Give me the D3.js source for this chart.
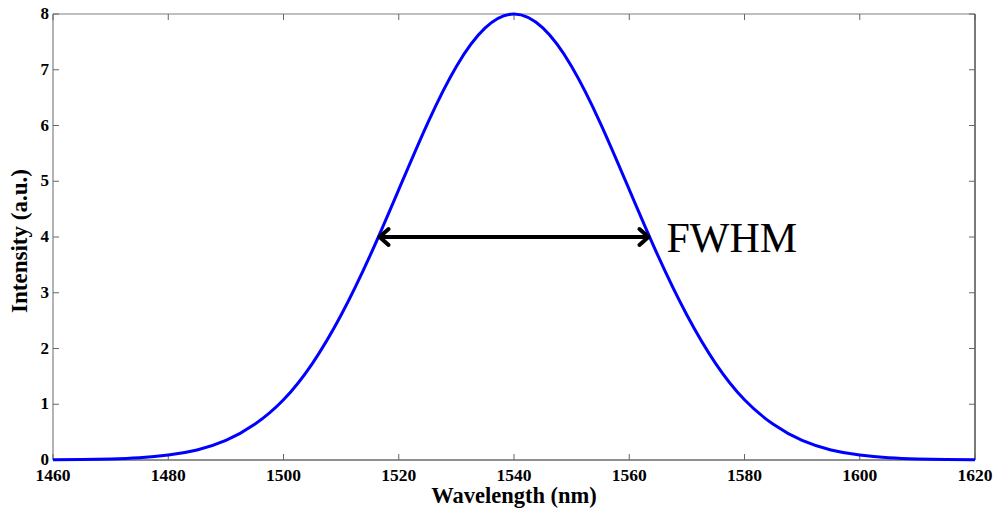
<!DOCTYPE html>
<html>
<head>
<meta charset="utf-8">
<script src="https://d3js.org/d3.v7.min.js"></script>
<style>
  html, body { margin: 0; padding: 0; background: #fff; }
  svg { display: block; }
</style>
</head>
<body>
<script>
// Spectrum samples: wavelength (nm) and intensity (a.u.)
const wavelengths = [1460,1465,1470,1475,1480,1485,1490,1495,1500,1505,1510,1515,1520,1525,1530,1535,1540,
                     1545,1550,1555,1560,1565,1570,1575,1580,1585,1590,1595,1600,1605,1610,1615,1620];
const intensity   = [0.003,0.007,0.018,0.041,0.089,0.18,0.35,0.64,1.08,1.73,2.60,3.66,4.85,6.04,7.06,7.75,8.0,
                     7.75,7.06,6.04,4.85,3.66,2.60,1.73,1.08,0.64,0.35,0.18,0.089,0.041,0.018,0.007,0.003];
const xTicks = [1460,1480,1500,1520,1540,1560,1580,1600,1620];
const yTicks = [0,1,2,3,4,5,6,7,8];
// Half-maximum markers
const fwhmLeft = 1516.5, fwhmRight = 1563.5, halfMax = 4;
const fwhmLabel = "FWHM";

const W = 1003, H = 512;
const m = {left: 53, right: 28, top: 14, bottom: 52};
const svg = d3.select("body").append("svg").attr("width", W).attr("height", H);

const x = d3.scaleLinear().domain([1460, 1620]).range([m.left, W - m.right]);
const y = d3.scaleLinear().domain([0, 8]).range([H - m.bottom, m.top]);

const serif = "'Liberation Serif', 'Times New Roman', serif";
const tickLen = 6;

// Box
const x0 = x.range()[0], x1 = x.range()[1], y0 = y.range()[0], y1 = y.range()[1];
svg.append("line").attr("x1", x0).attr("x2", x1).attr("y1", y1).attr("y2", y1).attr("stroke", "#808080").attr("stroke-width", 1.2);
svg.append("line").attr("x1", x0).attr("x2", x0).attr("y1", y1).attr("y2", y0).attr("stroke", "#808080").attr("stroke-width", 1.2);
svg.append("line").attr("x1", x1).attr("x2", x1).attr("y1", y1).attr("y2", y0).attr("stroke", "#222").attr("stroke-width", 1.2);
svg.append("line").attr("x1", x0).attr("x2", x1).attr("y1", y0).attr("y2", y0).attr("stroke", "#222").attr("stroke-width", 1.2);

// Inward ticks on all four sides
const tg = svg.append("g").attr("stroke", "#666").attr("stroke-width", 1);
xTicks.forEach(t => {
  tg.append("line").attr("x1", x(t)).attr("x2", x(t)).attr("y1", y0).attr("y2", y0 - tickLen);
  tg.append("line").attr("x1", x(t)).attr("x2", x(t)).attr("y1", y1).attr("y2", y1 + tickLen);
});
yTicks.forEach(t => {
  tg.append("line").attr("x1", x0).attr("x2", x0 + tickLen).attr("y1", y(t)).attr("y2", y(t));
  tg.append("line").attr("x1", x1).attr("x2", x1 - tickLen).attr("y1", y(t)).attr("y2", y(t));
});

// Tick labels
svg.append("g").selectAll("text").data(xTicks).join("text")
  .attr("x", d => x(d)).attr("y", y0 + 21)
  .attr("text-anchor", "middle")
  .attr("font-family", serif).attr("font-weight", "bold").attr("font-size", 17.5)
  .text(d => d);
svg.append("g").selectAll("text").data(yTicks).join("text")
  .attr("x", x0 - 4).attr("y", d => y(d) + 5)
  .attr("text-anchor", "end")
  .attr("font-family", serif).attr("font-weight", "bold").attr("font-size", 17)
  .text(d => d);

// Axis titles
svg.append("text").attr("x", (x0 + x1) / 2).attr("y", y0 + 43)
  .attr("text-anchor", "middle")
  .attr("font-family", serif).attr("font-weight", "bold").attr("font-size", 22.5)
  .text("Wavelength (nm)");
svg.append("text")
  .attr("transform", `translate(27,${(y0 + y1) / 2 + 4}) rotate(-90)`)
  .attr("text-anchor", "middle")
  .attr("font-family", serif).attr("font-weight", "bold").attr("font-size", 23)
  .text("Intensity (a.u.)");

// Spectrum curve
const pts = wavelengths.map((w, i) => [w, intensity[i]]);
svg.append("path").datum(pts)
  .attr("fill", "none").attr("stroke", "#0000ff").attr("stroke-width", 3)
  .attr("d", d3.line().x(d => x(d[0])).y(d => y(d[1])).curve(d3.curveNatural));

// FWHM double-headed arrow
const ay = y(halfMax), ax1 = x(fwhmLeft), ax2 = x(fwhmRight), ah = 10;
const ag = svg.append("g").attr("stroke", "#000").attr("stroke-width", 4).attr("fill", "none")
  .attr("stroke-linecap", "round").attr("stroke-linejoin", "round");
ag.append("line").attr("x1", ax1 + 2).attr("x2", ax2 - 2).attr("y1", ay).attr("y2", ay);
ag.append("path").attr("d", `M${ax1 + ah},${ay - ah * 0.8} L${ax1 + 1},${ay} L${ax1 + ah},${ay + ah * 0.8}`);
ag.append("path").attr("d", `M${ax2 - ah},${ay - ah * 0.8} L${ax2 - 1},${ay} L${ax2 - ah},${ay + ah * 0.8}`);

svg.append("text").attr("x", ax2 + 17).attr("y", ay + 15)
  .attr("font-family", serif).attr("font-size", 42)
  .text(fwhmLabel);
</script>
</body>
</html>
